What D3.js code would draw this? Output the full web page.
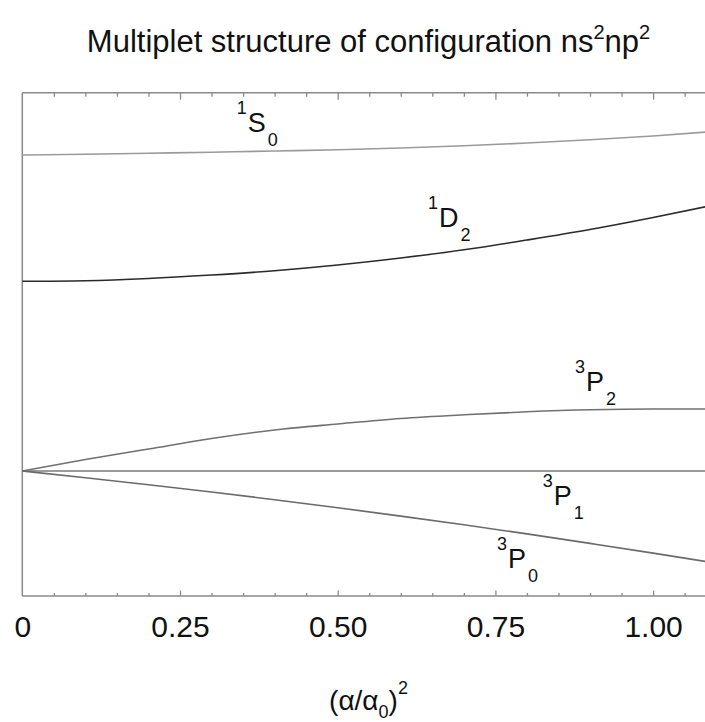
<!DOCTYPE html>
<html>
<head>
<meta charset="utf-8">
<script src="https://cdn.jsdelivr.net/npm/d3@7"></script>
<style>
  body { margin: 0; background: #fff; }
  svg { display: block; font-family: "Liberation Sans", Arial, sans-serif; }
</style>
</head>
<body>
<div id="chart"></div>
<script>
// x = (alpha/alpha0)^2, energies in arbitrary units (3P1 = 0)
var xs       = [0, 0.1, 0.2, 0.3, 0.4, 0.5, 0.6, 0.7, 0.8, 0.9, 1.0, 1.085];
var level1S0 = [3.16, 3.167, 3.177, 3.188, 3.20, 3.213, 3.23, 3.252, 3.28, 3.312, 3.35, 3.39];
var level1D2 = [1.897, 1.903, 1.925, 1.96, 2.003, 2.06, 2.13, 2.212, 2.31, 2.415, 2.535, 2.645];
var level3P2 = [0, 0.115, 0.22, 0.325, 0.41, 0.47, 0.525, 0.562, 0.592, 0.612, 0.62, 0.62];
var level3P1 = [0, 0, 0, 0, 0, 0, 0, 0, 0, 0, 0, 0];
var level3P0 = [0, -0.067, -0.137, -0.21, -0.287, -0.367, -0.451, -0.538, -0.629, -0.724, -0.821, -0.907];

var tickValues = [0, 0.25, 0.5, 0.75, 1.0];
var tickLabels = ["0", "0.25", "0.50", "0.75", "1.00"];
var minorTicks = d3.range(1, 22).map(function(i) { return i * 0.05; });

// term labels: multiplicity, letter, J, anchor point in data units
var terms = [
  { mult: "1", L: "S", J: "0", x: 0.340, e: 3.393 },
  { mult: "1", L: "D", J: "2", x: 0.643, e: 2.44 },
  { mult: "3", L: "P", J: "2", x: 0.876, e: 0.803 },
  { mult: "3", L: "P", J: "1", x: 0.825, e: -0.34 },
  { mult: "3", L: "P", J: "0", x: 0.7525, e: -0.973 }
];

var series = [
  { values: level1S0, color: "#9a9a9a" },
  { values: level1D2, color: "#2a2a2a" },
  { values: level3P2, color: "#707070" },
  { values: level3P1, color: "#7a7a7a" },
  { values: level3P0, color: "#6a6a6a" }
];

var W = 705, H = 722;
var plotLeft = 22.3, plotTop = 92.7, plotBottom = 596;

var svg = d3.select("#chart").append("svg").attr("width", W).attr("height", H);

var x = d3.scaleLinear().domain([0, 1]).range([plotLeft, 653.1]);
var y = d3.scaleLinear().domain([-1.25, 3.783]).range([plotBottom, plotTop]);

// title
var title = svg.append("text")
  .attr("x", 368.5).attr("y", 52)
  .attr("text-anchor", "middle")
  .attr("font-size", 31)
  .attr("fill", "#111");
title.append("tspan").text("Multiplet structure of configuration ns");
title.append("tspan").attr("font-size", 20).attr("dy", -13).text("2");
title.append("tspan").attr("dy", 13).text("np");
title.append("tspan").attr("font-size", 20).attr("dy", -13).text("2");

// frame
var frameColor = "#8a8a8a";
svg.append("line").attr("x1", plotLeft).attr("x2", plotLeft).attr("y1", plotTop).attr("y2", plotBottom)
  .attr("stroke", frameColor).attr("stroke-width", 1.5);
svg.append("line").attr("x1", plotLeft).attr("x2", W + 5).attr("y1", plotTop).attr("y2", plotTop)
  .attr("stroke", frameColor).attr("stroke-width", 1.5);
svg.append("line").attr("x1", plotLeft).attr("x2", W + 5).attr("y1", plotBottom).attr("y2", plotBottom)
  .attr("stroke", frameColor).attr("stroke-width", 1.5);

function isMajor(v) { return Math.abs(v / 0.25 - Math.round(v / 0.25)) < 1e-6; }

// bottom ticks (pointing inward)
var bottomAxis = svg.append("g").attr("transform", "translate(0," + plotBottom + ")")
  .call(d3.axisBottom(x).tickValues(minorTicks).tickSize(0).tickFormat(""));
bottomAxis.select(".domain").remove();
bottomAxis.selectAll(".tick line")
  .attr("y2", function(d) { return isMajor(d) ? -5.5 : -3; })
  .attr("stroke", frameColor).attr("stroke-width", 1.3);

// top ticks (pointing inward)
var topAxis = svg.append("g").attr("transform", "translate(0," + plotTop + ")")
  .call(d3.axisTop(x).tickValues(minorTicks).tickSize(0).tickFormat(""));
topAxis.select(".domain").remove();
topAxis.selectAll(".tick line")
  .attr("y2", function(d) { return isMajor(d) ? 7 : 4; })
  .attr("stroke", frameColor).attr("stroke-width", 1.3);

// tick labels
var labAxis = svg.append("g").attr("transform", "translate(0," + plotBottom + ")")
  .call(d3.axisBottom(x).tickValues(tickValues).tickSize(0)
    .tickFormat(function(d, i) { return tickLabels[i]; }));
labAxis.select(".domain").remove();
labAxis.selectAll(".tick text")
  .attr("y", 41).attr("dy", 0)
  .attr("font-size", 30)
  .attr("font-family", "'Liberation Sans', Arial, sans-serif")
  .attr("fill", "#111");

// curves
var line = d3.line()
  .x(function(d, i) { return x(xs[i]); })
  .y(function(d) { return y(d); })
  .curve(d3.curveMonotoneX);

svg.append("g").selectAll("path")
  .data(series)
  .enter().append("path")
  .attr("d", function(s) { return line(s.values); })
  .attr("fill", "none")
  .attr("stroke", function(s) { return s.color; })
  .attr("stroke-width", 1.6);

// term labels
var termText = svg.append("g").selectAll("text")
  .data(terms)
  .enter().append("text")
  .attr("x", function(t) { return x(t.x); })
  .attr("y", function(t) { return y(t.e); })
  .attr("fill", "#111")
  .attr("stroke", "#fff").attr("stroke-width", 3)
  .attr("paint-order", "stroke")
  .attr("font-size", 27);
termText.append("tspan").attr("font-size", 18).attr("dy", -18).text(function(t) { return t.mult; });
termText.append("tspan").attr("dy", 18).attr("dx", 1).text(function(t) { return t.L; });
termText.append("tspan").attr("font-size", 18).attr("dy", 14).attr("dx", 2).text(function(t) { return t.J; });

// axis title
var xt = svg.append("text")
  .attr("x", 368.5).attr("y", 710)
  .attr("text-anchor", "middle")
  .attr("font-size", 28)
  .attr("fill", "#111");
xt.append("tspan").text("(\u03b1/\u03b1");
xt.append("tspan").attr("font-size", 18).attr("dy", 8).text("0");
xt.append("tspan").attr("dy", -8).text(")");
xt.append("tspan").attr("font-size", 18).attr("dy", -16).text("2");
</script>
</body>
</html>
